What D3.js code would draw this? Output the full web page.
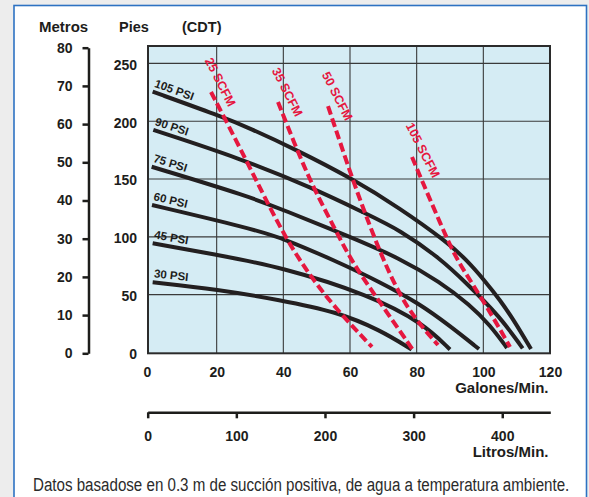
<!DOCTYPE html>
<html>
<head>
<meta charset="utf-8">
<script src="https://cdn.jsdelivr.net/npm/d3@7"></script>
<style>
  html, body { margin: 0; padding: 0; background: #ededed; }
  svg { display: block; }
  text { font-family: "Liberation Sans", Arial, Helvetica, sans-serif; }
</style>
</head>
<body>
<div id="chart"></div>
<script>
// Performance curves: [flow GPM, head feet]
const psiLabels = ['105 PSI', '90 PSI', '75 PSI', '60 PSI', '45 PSI', '30 PSI'];
const psi105 = [[0.8,225.5],[21,204.5],[30,193.8],[44,175.1],[60.5,150.6],[75,124.7],[89,95.8],[95,80],[100.5,61.8],[105,45.4],[109.5,26.4],[114.3,3]];
const psi90 = [[1,192.4],[27,167.9],[49,142],[64.5,120.4],[75,105.9],[87,81.5],[95,59.8],[105,31],[111.8,3.6]];
const psi75 = [[0.5,160.6],[30,134.7],[40,123.2],[60,100.1],[75,81.4],[87,61],[96,41.1],[102,23.8],[107.1,3.9]];
const psi60 = [[0.6,127.5],[30,107.4],[40,98.7],[55,80],[69,61],[81,41.9],[90,22.9],[98.7,3]];
const psi45 = [[0.8,94.4],[20.3,84.3],[39,74.2],[66,49.7],[82,25.2],[90,2.6]];
const psi30 = [[0.8,60.7],[20.3,54.6],[39,45.4],[56,35.3],[69,19.5],[78.5,2.6]];
const psiCurves = [psi105, psi90, psi75, psi60, psi45, psi30];

// Air consumption lines (SCFM)
const scfmLabels = ['25 SCFM', '35 SCFM', '50 SCFM', '105 SCFM'];
const scfm25 = [[18.3,225.2],[25.8,183.7],[33.3,140.5],[40.5,99.9],[48,66.1],[56.1,36.7],[66.6,4.8]];
const scfm35 = [[38.4,216.6],[44.1,175.1],[49.2,141.4],[55.5,106.8],[60.6,78.2],[68.1,47.1],[78.9,2.2]];
const scfm50 = [[53.4,213.1],[60.6,150.9],[64.5,120.6],[69.9,80],[77.1,36.7],[86.4,6.5]];
const scfm105 = [[78.6,169],[87.9,105.9],[92.1,80],[96.6,60.1],[102.9,30.7],[108,4.8]];
const scfmCurves = [scfm25, scfm35, scfm50, scfm105];

// Axis ticks
const metrosTicks = [0, 10, 20, 30, 40, 50, 60, 70, 80];
const piesTicks = [0, 50, 100, 150, 200, 250];
const gpmTicks = [0, 20, 40, 60, 80, 100, 120];
const litrosTicks = [0, 100, 200, 300, 400];
const gpmGrid = [20, 40, 60, 80, 100];
const piesGrid = [50, 100, 150, 200, 250];

const W = 589, H = 497;
const plot = { left: 148, right: 550, top: 46, bottom: 353.3 };
const ink = '#1d1d1b';

const svg = d3.select('#chart').append('svg')
    .attr('width', W)
    .attr('height', H);

// Page background and white card with blue frame
svg.append('rect').attr('width', W).attr('height', H).attr('fill', '#ededed');
svg.append('rect')
    .attr('x', 14).attr('y', 5.5)
    .attr('width', 572.5).attr('height', 530)
    .attr('fill', '#fff')
    .attr('stroke', '#2d72c2')
    .attr('stroke-width', 1.6);

// Scales
const xScale = d3.scaleLinear().domain([0, 120]).range([150, 550]);
const yScale = d3.scaleLinear().domain([0, 265]).range([352.5, 46]);
const metrosScale = d3.scaleLinear().domain([0, 80]).range([353.3, 47.7]);
const litrosScale = d3.scaleLinear().domain([0, 120 * 3.785]).range([147.7, 550.3]);

// Plot background
svg.append('rect')
    .attr('x', plot.left).attr('y', plot.top)
    .attr('width', plot.right - plot.left)
    .attr('height', plot.bottom - plot.top)
    .attr('fill', '#d5ecf4');

// Grid
const grid = svg.append('g').attr('stroke', '#3a3a3a').attr('stroke-width', 1.1);
grid.selectAll('.vgrid').data(gpmGrid).join('line')
    .attr('x1', d => xScale(d)).attr('x2', d => xScale(d))
    .attr('y1', plot.top).attr('y2', plot.bottom);
grid.selectAll('.hgrid').data(piesGrid).join('line')
    .attr('x1', plot.left).attr('x2', plot.right)
    .attr('y1', d => yScale(d)).attr('y2', d => yScale(d));

// Smooth curves through the read-off points
const line = d3.line()
    .x(d => xScale(d[0]))
    .y(d => yScale(d[1]))
    .curve(d3.curveBasis);

// PSI curves
svg.append('g').selectAll('path').data(psiCurves).join('path')
    .attr('d', line)
    .attr('fill', 'none')
    .attr('stroke', '#231f20')
    .attr('stroke-width', 4);

// PSI labels, following the start of each curve
psiCurves.forEach((c, i) => {
    const x0 = xScale(c[0][0]), y0 = yScale(c[0][1]);
    const x1 = xScale(c[1][0]), y1 = yScale(c[1][1]);
    const ang = Math.atan2(y1 - y0, x1 - x0) * 180 / Math.PI;
    svg.append('text')
        .attr('transform', `translate(${x0 + 1},${y0 - 5}) rotate(${ang})`)
        .attr('font-size', 11.5)
        .attr('font-weight', 'bold')
        .attr('fill', ink)
        .text(psiLabels[i]);
});

// SCFM dashed lines
svg.append('g').selectAll('path').data(scfmCurves).join('path')
    .attr('d', line)
    .attr('fill', 'none')
    .attr('stroke', '#e5173f')
    .attr('stroke-width', 4)
    .attr('stroke-dasharray', '9,4');

scfmCurves.forEach((c, i) => {
    const x0 = xScale(c[0][0]), y0 = yScale(c[0][1]);
    svg.append('text')
        .attr('transform', `translate(${x0 - 6.5},${y0 - 31.5}) rotate(63)`)
        .attr('font-size', 12.5)
        .attr('font-weight', 'bold')
        .attr('fill', '#e5173f')
        .text(scfmLabels[i]);
});

// Plot frame
svg.append('rect')
    .attr('x', plot.left).attr('y', plot.top)
    .attr('width', plot.right - plot.left)
    .attr('height', plot.bottom - plot.top)
    .attr('fill', 'none')
    .attr('stroke', '#2b2b2b')
    .attr('stroke-width', 2);

function styleAxis(g, size) {
    g.selectAll('text')
        .attr('font-size', size)
        .attr('font-weight', 'bold')
        .attr('fill', ink);
    g.selectAll('line, path').attr('stroke', ink).attr('stroke-width', 2.5);
}

// Metros axis
const metrosAxis = svg.append('g')
    .attr('transform', 'translate(88.5,0)')
    .call(d3.axisLeft(metrosScale).tickValues(metrosTicks).tickSize(6).tickSizeOuter(0).tickPadding(10));
styleAxis(metrosAxis, 14);

// Pies (feet) axis
const piesAxis = svg.append('g')
    .attr('transform', `translate(${plot.left},0)`)
    .call(d3.axisLeft(yScale).tickValues(piesTicks).tickSize(0).tickPadding(11));
piesAxis.select('.domain').remove();
styleAxis(piesAxis, 14);
piesAxis.selectAll('text').attr('dy', '0.42em');

// GPM axis
const gpmAxis = svg.append('g')
    .attr('transform', `translate(0,${plot.bottom})`)
    .call(d3.axisBottom(xScale).tickValues(gpmTicks).tickSize(0).tickPadding(13.4));
gpmAxis.select('.domain').remove();
styleAxis(gpmAxis, 14);
gpmAxis.selectAll('.tick text').filter(d => d === 0).attr('dx', -3);

// Litros axis
const litrosAxis = svg.append('g')
    .attr('transform', 'translate(0,412.3)')
    .call(d3.axisBottom(litrosScale).tickValues(litrosTicks).tickSize(6).tickSizeOuter(0).tickPadding(12.5));
styleAxis(litrosAxis, 14);

// Headers and axis titles
const titles = [
    { t: 'Metros', x: 39, y: 32.3, a: 'start', s: 15 },
    { t: 'Pies', x: 119, y: 32.3, a: 'start', s: 14.5 },
    { t: '(CDT)', x: 182, y: 32.3, a: 'start', s: 14.5 },
    { t: 'Galones/Min.', x: 548.5, y: 393.3, a: 'end', s: 15 },
    { t: 'Litros/Min.', x: 548.5, y: 457, a: 'end', s: 15 }
];
svg.selectAll('.title').data(titles).join('text')
    .attr('class', 'title')
    .attr('x', d => d.x).attr('y', d => d.y)
    .attr('text-anchor', d => d.a)
    .attr('font-size', d => d.s)
    .attr('font-weight', 'bold')
    .attr('fill', ink)
    .text(d => d.t);

// Footnote in condensed type: squeeze horizontally to the reference width
const note = svg.append('text')
    .attr('font-size', 19)
    .attr('fill', '#2b2b2b')
    .style('font-family', '"Liberation Sans Narrow", "Arial Narrow", "Liberation Sans", sans-serif')
    .text('Datos basadose en 0.3 m de succión positiva, de agua a temperatura ambiente.');
const noteWidth = note.node().getComputedTextLength();
note.attr('transform', `translate(33,490.5) scale(${537 / noteWidth},1)`);
</script>
</body>
</html>
